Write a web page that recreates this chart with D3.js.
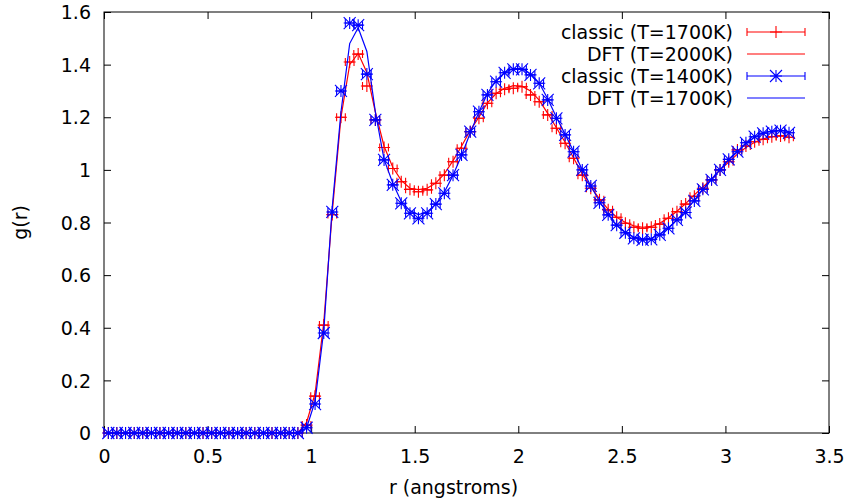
<!DOCTYPE html>
<html>
<head>
<meta charset="utf-8">
<script src="https://cdn.jsdelivr.net/npm/d3@7"></script>
<style>
  html, body { margin: 0; padding: 0; background: #fff; }
  svg { display: block; }
  text { font-family: "DejaVu Sans", sans-serif; fill: #000; }
</style>
</head>
<body>
<svg id="chart" width="849" height="500"></svg>
<script>
// ---------- DATA ----------
const rValues = [0.021,0.062,0.104,0.146,0.187,0.229,0.270,0.312,0.354,0.395,0.437,0.478,0.520,0.562,0.603,0.645,0.686,0.728,0.770,0.811,0.853,0.894,0.936,0.978,1.019,1.061,1.102,1.144,1.186,1.227,1.269,1.310,1.352,1.394,1.435,1.477,1.518,1.560,1.602,1.643,1.685,1.726,1.768,1.810,1.851,1.893,1.934,1.976,2.018,2.059,2.101,2.142,2.184,2.226,2.267,2.309,2.350,2.392,2.434,2.475,2.517,2.558,2.600,2.642,2.683,2.725,2.766,2.808,2.850,2.891,2.933,2.974,3.016,3.058,3.099,3.141,3.182,3.224,3.266,3.307];
const rHalfBin = 0.021;

const classic1700 = [0,0,0,0,0,0,0,0,0,0,0,0,0,0,0,0,0,0,0,0,0,0,0,
  0.03,0.14,0.41,0.83,1.20,1.41,1.44,1.319,1.19,1.085,1.005,0.955,0.926,0.917,0.924,0.949,0.98,
  1.031,1.082,1.145,1.196,1.253,1.291,1.306,1.31,1.316,1.285,1.259,1.209,1.158,1.101,1.044,0.98,
  0.93,0.886,0.848,0.82,0.797,0.782,0.778,0.782,0.794,0.816,0.841,0.87,0.90,0.93,0.962,1.0,
  1.031,1.076,1.091,1.107,1.116,1.126,1.129,1.124];

const dft2000 = [0,0,0,0,0,0,0,0,0,0,0,0,0,0,0,0,0,0,0,0,0,0,0,
  0.04,0.15,0.42,0.84,1.20,1.40,1.443,1.37,1.22,1.09,1.01,0.96,0.93,0.925,0.93,0.95,0.985,
  1.035,1.09,1.15,1.20,1.255,1.29,1.31,1.32,1.318,1.30,1.265,1.215,1.16,1.105,1.045,0.985,
  0.935,0.89,0.85,0.82,0.80,0.787,0.782,0.785,0.797,0.818,0.843,0.872,0.905,0.935,0.965,1.0,
  1.03,1.06,1.085,1.105,1.118,1.126,1.13,1.128];

const classic1400 = [0,0,0,0,0,0,0,0,0,0,0,0,0,0,0,0,0,0,0,0,0,0,0,
  0.02,0.11,0.38,0.84,1.30,1.558,1.55,1.364,1.19,1.038,0.943,0.873,0.835,0.816,0.835,0.87,0.911,
  0.98,1.057,1.145,1.221,1.285,1.335,1.369,1.382,1.382,1.361,1.329,1.266,1.196,1.133,1.069,1.0,
  0.939,0.875,0.829,0.79,0.761,0.74,0.734,0.736,0.753,0.778,0.81,0.838,0.882,0.926,0.962,1.0,
  1.04,1.069,1.103,1.126,1.139,1.145,1.149,1.141];

const dft1700 = [0,0,0,0,0,0,0,0,0,0,0,0,0,0,0,0,0,0,0,0,0,0,0,
  0.02,0.12,0.39,0.86,1.22,1.48,1.54,1.45,1.22,1.04,0.95,0.88,0.845,0.83,0.84,0.87,0.915,
  0.98,1.055,1.14,1.22,1.29,1.34,1.37,1.385,1.385,1.365,1.33,1.27,1.20,1.135,1.07,1.0,
  0.94,0.88,0.83,0.79,0.762,0.745,0.738,0.74,0.755,0.78,0.81,0.845,0.885,0.925,0.965,1.0,
  1.04,1.07,1.10,1.125,1.14,1.148,1.15,1.145];

const xTicks = [0, 0.5, 1, 1.5, 2, 2.5, 3, 3.5];
const xTickLabels = ["0", "0.5", "1", "1.5", "2", "2.5", "3", "3.5"];
const yTicks = [0, 0.2, 0.4, 0.6, 0.8, 1, 1.2, 1.4, 1.6];
const yTickLabels = ["0", "0.2", "0.4", "0.6", "0.8", "1", "1.2", "1.4", "1.6"];

const seriesNames = ["classic (T=1700K)", "DFT (T=2000K)", "classic (T=1400K)", "DFT (T=1700K)"];
const seriesColors = ["#ff0000", "#ff0000", "#0000ff", "#0000ff"];
const seriesKinds = ["plus", "line", "star", "line"];
const seriesValues = [classic1700, dft2000, classic1400, dft1700];

const xLabel = "r (angstroms)";
const yLabel = "g(r)";

// ---------- LAYOUT ----------
const L = 104, R = 829, T = 12, B = 433;
const FONT = 19;
const TICK = 7;
const PT = 6;   // marker half-size
const CAP = 4;  // errorbar cap half-height

const svg = d3.select("#chart");
const x = d3.scaleLinear().domain([0, 3.5]).range([L, R]);
const y = d3.scaleLinear().domain([0, 1.6]).range([B, T]);

// axes (ticks inward, mirrored)
const gx = svg.append("g").attr("transform", `translate(0,${B})`)
  .call(d3.axisBottom(x).tickValues(xTicks).tickSizeInner(-TICK).tickSizeOuter(0)
    .tickFormat((d, i) => xTickLabels[i]));
const gxt = svg.append("g").attr("transform", `translate(0,${T})`)
  .call(d3.axisTop(x).tickValues(xTicks).tickSizeInner(-TICK).tickSizeOuter(0).tickFormat(""));
const gy = svg.append("g").attr("transform", `translate(${L},0)`)
  .call(d3.axisLeft(y).tickValues(yTicks).tickSizeInner(-TICK).tickSizeOuter(0)
    .tickPadding(13).tickFormat((d, i) => yTickLabels[i]));
const gyr = svg.append("g").attr("transform", `translate(${R},0)`)
  .call(d3.axisRight(y).tickValues(yTicks).tickSizeInner(-TICK).tickSizeOuter(0).tickFormat(""));

[gx, gxt, gy, gyr].forEach(g => {
  g.select(".domain").remove();
  g.selectAll(".tick line").attr("stroke", "#000").attr("stroke-width", 1);
  g.selectAll("text").attr("font-size", FONT).attr("font-family", "DejaVu Sans, sans-serif").attr("fill", "#000");
});
gx.selectAll(".tick text").attr("dy", null).attr("y", 463 - B);
gy.selectAll(".tick text").attr("dy", "0.35em");

// frame
svg.append("rect").attr("x", L).attr("y", T).attr("width", R - L).attr("height", B - T)
  .attr("fill", "none").attr("stroke", "#000").attr("stroke-width", 1);

// axis labels
svg.append("text").attr("x", (L + R) / 2 - 13).attr("y", 494).attr("text-anchor", "middle")
  .attr("font-size", FONT).text(xLabel);
svg.append("text").attr("transform", `translate(27,${(T + B) / 2}) rotate(-90)`)
  .attr("text-anchor", "middle").attr("font-size", FONT).text(yLabel);

// marker drawing helpers
function drawPlus(g, cx, cy, color) {
  g.append("path").attr("d", `M${cx - PT},${cy}H${cx + PT}M${cx},${cy - PT}V${cy + PT}`)
    .attr("stroke", color).attr("stroke-width", 1.1).attr("fill", "none");
}
function drawStar(g, cx, cy, color) {
  const s = PT;
  g.append("path").attr("d",
    `M${cx - s},${cy}H${cx + s}M${cx},${cy - s}V${cy + s}M${cx - s},${cy - s}L${cx + s},${cy + s}M${cx - s},${cy + s}L${cx + s},${cy - s}`)
    .attr("stroke", color).attr("stroke-width", 1.1).attr("fill", "none");
}
function drawErr(g, x0, x1, cy, color) {
  g.append("path").attr("d", `M${x0},${cy}H${x1}M${x0},${cy - CAP}V${cy + CAP}M${x1},${cy - CAP}V${cy + CAP}`)
    .attr("stroke", color).attr("stroke-width", 1.1).attr("fill", "none");
}

const plotG = svg.append("g");
const line = d3.line().x(d => x(d[0])).y(d => y(d[1]));

seriesValues.forEach((vals, si) => {
  const color = seriesColors[si];
  const kind = seriesKinds[si];
  const g = plotG.append("g");
  if (kind === "line") {
    g.append("path").datum(rValues.map((r, i) => [r, vals[i]]))
      .attr("d", line).attr("fill", "none").attr("stroke", color).attr("stroke-width", 1.2);
  } else {
    rValues.forEach((r, i) => {
      const cx = x(r), cy = y(vals[i]);
      drawErr(g, x(r - rHalfBin), x(r + rHalfBin), cy, color);
      if (kind === "plus") drawPlus(g, cx, cy, color); else drawStar(g, cx, cy, color);
    });
  }
});

// legend
const keyTextX = 733, keyX0 = 747, keyX1 = 805, keyY0 = 32, keyDY = 22;
seriesNames.forEach((name, si) => {
  const cy = keyY0 + si * keyDY;
  const color = seriesColors[si];
  const kind = seriesKinds[si];
  svg.append("text").attr("x", keyTextX).attr("y", cy).attr("dy", "0.35em")
    .attr("text-anchor", "end").attr("font-size", FONT).text(name);
  const g = svg.append("g");
  if (kind === "line") {
    g.append("path").attr("d", `M${keyX0},${cy}H${keyX1}`).attr("stroke", color).attr("stroke-width", 1.2);
  } else {
    drawErr(g, keyX0, keyX1, cy, color);
    const cx = (keyX0 + keyX1) / 2;
    if (kind === "plus") drawPlus(g, cx, cy, color); else drawStar(g, cx, cy, color);
  }
});
</script>
</body>
</html>
